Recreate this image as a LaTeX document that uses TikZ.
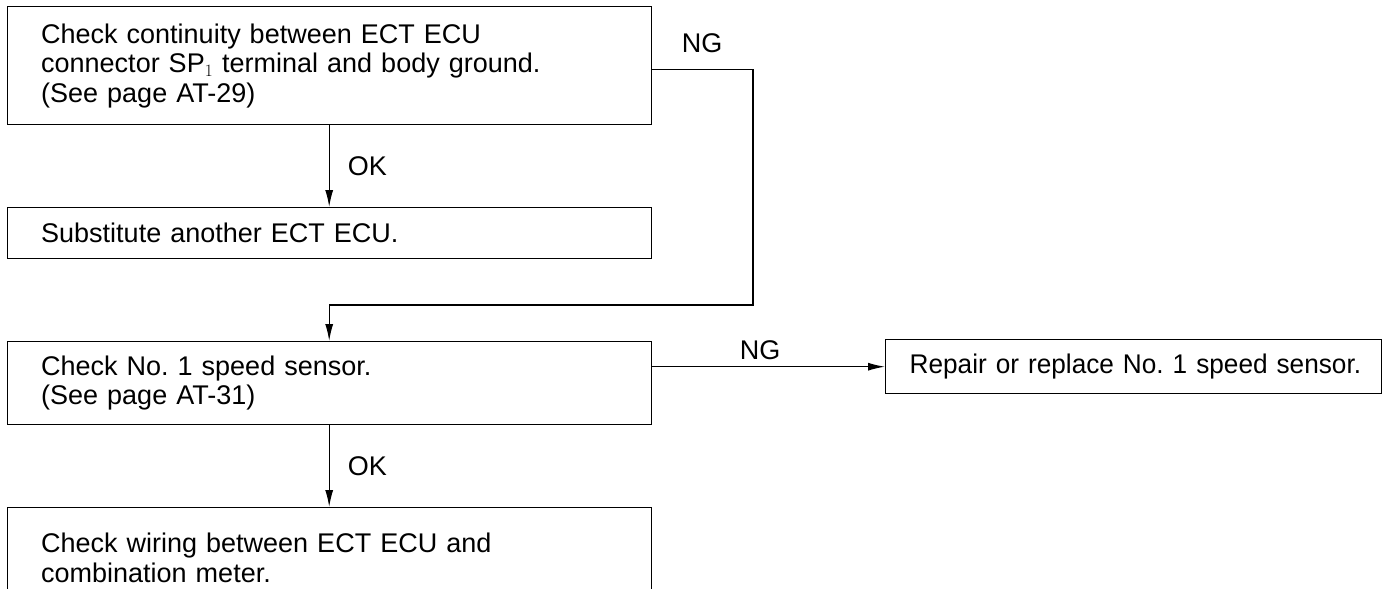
\documentclass[tikz,border=0pt]{standalone}
\usepackage{fontspec}
\setmainfont{Liberation Sans}
\newfontfamily\boxnarrow{Liberation Sans}[FakeStretch=0.97]
\usetikzlibrary{arrows.meta,calc}
\begin{document}
\begin{tikzpicture}[x=1pt,y=-1pt,
  box/.style={draw, line width=1.4pt, rectangle, anchor=north west, align=left,
    inner xsep=34pt, inner ysep=0pt, font=\fontsize{27}{29.5}\selectfont},
  conn/.style={line width=1.3pt},
  arr/.style={conn, -{Latex[length=17pt,width=8pt]}},
  lbl/.style={font=\fontsize{27}{29.5}\selectfont, inner sep=0pt}]
\useasboundingbox (0,0) rectangle (1387,589);
\clip (0,0) rectangle (1387,589);
\node[box, minimum width=644pt, minimum height=118pt, text width=576pt] (b1) at (6.5,6)
  {Check continuity between ECT ECU\\connector SP$_1$\ terminal and body ground.\\(See page AT-29)};
\node[box, minimum width=644pt, minimum height=51pt, text width=576pt] (b2) at (6.5,207)
  {Substitute another ECT ECU.};
\node[box, minimum width=644pt, minimum height=83pt, text width=576pt] (b3) at (6.5,341)
  {Check No.\ 1 speed sensor.\\(See page AT-31)};
\node[box, minimum width=496pt, minimum height=54pt, text width=448pt, inner xsep=24pt] (b4) at (885,339)
  {\makebox[0pt][l]{\boxnarrow Repair or replace No.\ 1 speed sensor.}};
\node[box, minimum width=644pt, text width=576pt, text height=45pt, text depth=100pt] (b5) at (6.5,507)
  {Check wiring between ECT ECU and\\combination meter.};
\coordinate (c1) at (753,305);
\draw[arr] (b1.south) -- node[lbl, right=18pt] {OK} (b2.north);
\draw[arr] ([yshift=-3.5pt]b1.east) -| (c1) -| (b3.north);
\node[lbl] (ng1) at (702,43) {NG};
\draw[arr] (b3.east |- b4.west) -- (b4.west);
\node[lbl] (ng2) at (760,350) {NG};
\draw[arr] (b3.south) -- node[lbl, right=18pt] {OK} (b5.north);
\end{tikzpicture}
\end{document}
